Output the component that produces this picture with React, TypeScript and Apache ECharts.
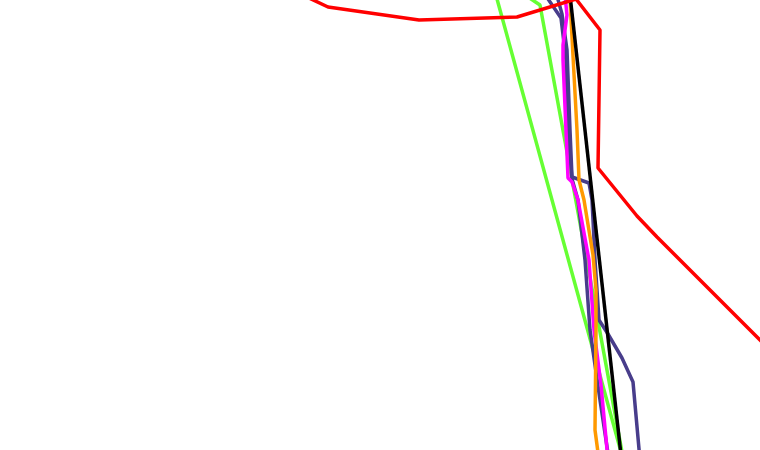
import React, { useEffect, useRef } from "react";
import * as echarts from "echarts";

// Each trace is a list of [x, depth] readings in the chart's own units
const redTrace: number[][] = [
  [290, -11], [328, 7], [419, 20], [517, 17], [576, -1], [600, 30],
  [598, 168], [637, 216], [657, 237], [760, 340], [800, 380],
];
const greenTraceA: number[][] = [[494, -12], [621, 452], [623, 460]];
const greenTraceB: number[][] = [[528, -3], [540, 5], [622, 452], [624, 460]];
const blueTraceA: number[][] = [
  [546, -4], [561, 18], [566, 60], [568, 130], [572, 179], [578, 200],
  [585, 260], [590, 330], [600, 400], [609, 460],
];
const blueTraceB: number[][] = [
  [557, -4], [562, 14], [567, 50], [570, 130], [572, 177], [589, 183],
  [592, 200], [595, 260], [599, 320], [608, 334], [622, 358], [633, 382], [640, 460],
];
const magentaTrace: number[][] = [
  [565, -5], [567, 15], [563, 45], [563, 60], [568, 178], [572, 182],
  [578, 200], [589, 260], [594, 330], [601, 385], [608, 460],
];
const orangeTrace: number[][] = [
  [568, -5], [570, 0], [577, 130], [579, 180], [584, 200], [593, 255],
  [596, 290], [596, 330], [595, 430], [599, 460],
];
const blackTrace: number[][] = [[570, -5], [621, 455]];

const xRange = [0, 760];
const depthRange = [0, 450];

export default function App() {
  const ref = useRef<HTMLDivElement>(null);
  useEffect(() => {
    if (!ref.current) return;
    const chart = echarts.init(ref.current, null, { renderer: "svg" });
    const mk = (data: number[][], color: string, z: number) => ({
      type: "line",
      data,
      symbol: "none",
      clip: true,
      z,
      lineStyle: { color, width: 3.5 },
      emphasis: { disabled: true },
    });
    chart.setOption({
      animation: false,
      backgroundColor: "#ffffff",
      grid: { left: 0, right: 0, top: 0, bottom: 0 },
      xAxis: { type: "value", min: xRange[0], max: xRange[1], show: false },
      yAxis: { type: "value", min: depthRange[0], max: depthRange[1], inverse: true, show: false },
      series: [
        mk(greenTraceA, "#66ff33", 1),
        mk(greenTraceB, "#66ff33", 1),
        mk(blueTraceA, "#483d8b", 2),
        mk(blueTraceB, "#483d8b", 2),
        mk(magentaTrace, "#ff00ff", 3),
        mk(orangeTrace, "#ff9900", 4),
        mk(blackTrace, "#000000", 5),
        mk(redTrace, "#ff0000", 6),
      ],
    });
    return () => chart.dispose();
  }, []);
  return (
    <div
      ref={ref}
      style={{ position: "fixed", left: 0, top: 0, width: 760, height: 450, background: "#fff" }}
    />
  );
}
